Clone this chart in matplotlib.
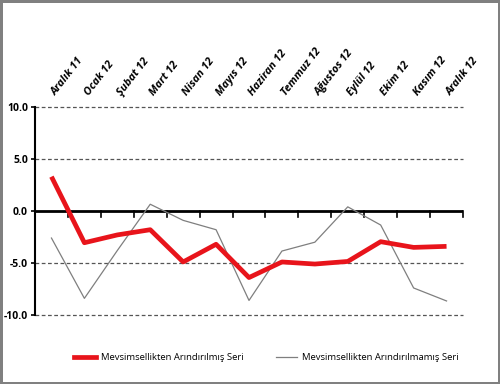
import matplotlib
matplotlib.use("Agg")
import matplotlib.pyplot as plt
from matplotlib.lines import Line2D

categories = ["Aralık 11", "Ocak 12", "Şubat 12", "Mart 12", "Nisan 12", "Mayıs 12",
              "Haziran 12", "Temmuz 12", "Ağustos 12", "Eylül 12", "Ekim 12", "Kasım 12", "Aralık 12"]
adjusted = [3.3, -3.05, -2.3, -1.8, -4.9, -3.2, -6.4, -4.9, -5.1, -4.85, -2.95, -3.5, -3.4]
unadjusted = [-2.6, -8.4, -3.8, 0.65, -0.9, -1.8, -8.6, -3.85, -3.0, 0.4, -1.35, -7.4, -8.65]
yticks = [10, 5, 0, -5, -10]
ytick_labels = ["10.0", "5.0", "0.0", "-5.0", "-10.0"]
series_names = ["Mevsimsellikten Arındırılmış Seri", "Mevsimsellikten Arındırılmamış Seri"]

plt.rcParams['font.family'] = ['Open Sans', 'DejaVu Sans']

fig = plt.figure(figsize=(5.0, 3.84), dpi=100)
fig.patch.set_facecolor('white')
fig.patch.set_edgecolor('#808080')
fig.patch.set_linewidth(2.5)

W, H = 500, 384
left, right, top, bottom = 35, 463, 107, 315
ax = fig.add_axes([left / W, 1 - bottom / H, (right - left) / W, (bottom - top) / H])

x = list(range(len(categories)))
ax.plot(x, unadjusted, color='#7f7f7f', lw=0.9, zorder=3)
ax.plot(x, adjusted, color='#e8141b', lw=3.4, zorder=4, solid_capstyle='butt')

ax.set_xlim(-0.5, len(categories) - 0.5)
ax.set_ylim(-10, 10)

for s in ['top', 'right', 'bottom']:
    ax.spines[s].set_visible(False)
ax.spines['left'].set_color('black')
ax.spines['left'].set_linewidth(1.5)

ax.set_yticks(yticks)
ax.set_yticklabels(ytick_labels, fontsize=7.5, fontweight='bold')
ax.tick_params(axis='y', direction='out', length=3, width=1.2, pad=2)

for v in yticks:
    if v != 0:
        ax.axhline(v, color='#555555', lw=0.9, ls=(0, (3, 2)), zorder=1, clip_on=False)
ax.axhline(0, color='black', lw=2, zorder=2)

ax.set_xticks([])
for i in range(len(categories) + 1):
    ax.plot([i - 0.5, i - 0.5], [0, -0.55], color='black', lw=1.2, zorder=2, clip_on=False)

for i, c in enumerate(categories):
    ax.annotate(c, xy=(i, 10), xycoords='data', xytext=(3, 8), textcoords='offset points',
                rotation=52, ha='left', va='baseline', rotation_mode='anchor',
                fontsize=7.8, fontweight='bold', fontstyle='italic')

handles = [Line2D([], [], color='#e8141b', lw=3.4),
           Line2D([], [], color='#7f7f7f', lw=0.9)]
fig.legend(handles, series_names, loc='center', bbox_to_anchor=(0.533, 1 - 358 / H),
           ncol=2, frameon=False, fontsize=6.8, handlelength=2.3, columnspacing=3.4,
           handletextpad=0.5)

fig.savefig('out.png', dpi=100, facecolor=fig.get_facecolor(), edgecolor=fig.get_edgecolor())
